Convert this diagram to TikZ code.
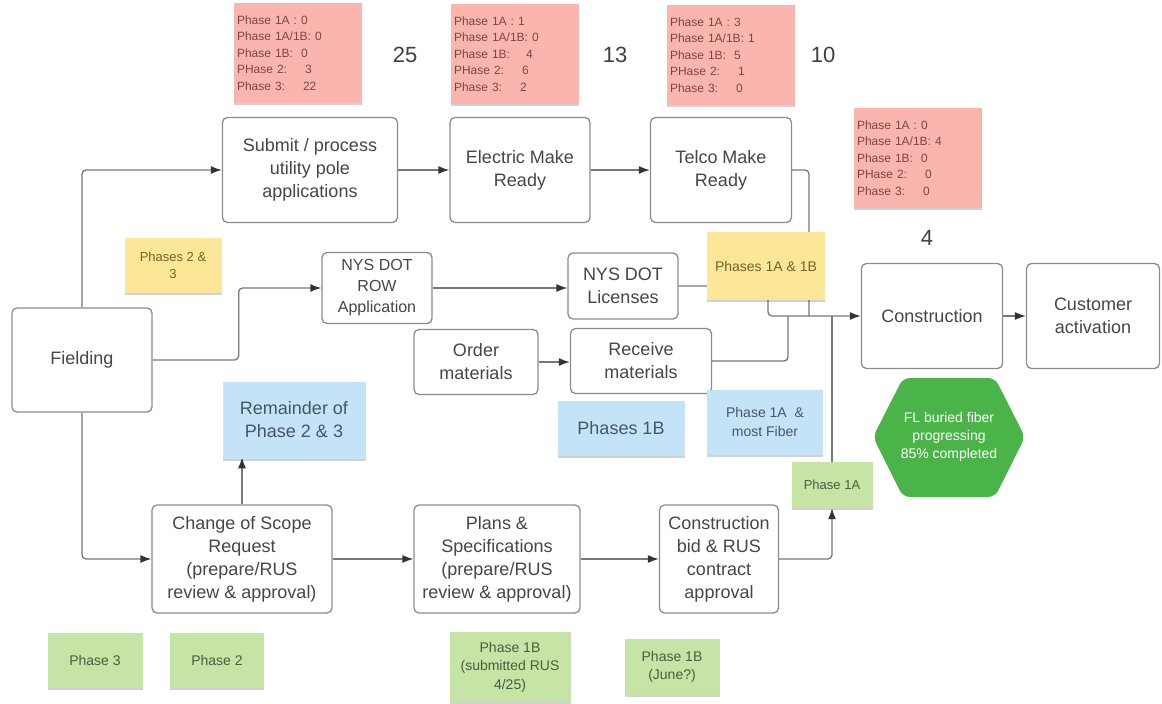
\documentclass[tikz,border=0pt]{standalone}
\usepackage{fontspec}
\setmainfont{Liberation Sans}
\usetikzlibrary{arrows.meta,shadows}

\definecolor{boxline}{RGB}{140,140,140}
\definecolor{boxtext}{RGB}{70,70,70}
\definecolor{linegray}{RGB}{120,120,120}
\definecolor{pinkfill}{RGB}{250,182,174}
\definecolor{pinktext}{RGB}{125,70,70}
\definecolor{yellowfill}{RGB}{252,230,152}
\definecolor{yellowtext}{RGB}{115,100,40}
\definecolor{bluefill}{RGB}{197,227,246}
\definecolor{bluetext}{RGB}{70,85,105}
\definecolor{greenfill}{RGB}{198,228,166}
\definecolor{greentext}{RGB}{70,95,60}
\definecolor{hexfill}{RGB}{74,180,72}

\begin{document}
\begin{tikzpicture}[x=1pt, y=-1pt,
    every node/.style={font=\fontsize{18}{23}\selectfont, text=boxtext},
    procbox/.style={draw=boxline, line width=1.3pt, rounded corners=5pt, fill=white, align=center, inner sep=2pt},
    note/.style={rectangle, align=center, inner sep=3pt,
        drop shadow={shadow xshift=0pt, shadow yshift=-2pt, opacity=0.18, fill=black}},
    pinknote/.style={note, fill=pinkfill, text=pinktext, align=left, text width=122pt,
        font=\fontsize{12}{16.5}\selectfont, minimum height=100pt},
    yellownote/.style={note, fill=yellowfill, text=yellowtext},
    bluenote/.style={note, fill=bluefill, text=bluetext},
    greennote/.style={note, fill=greenfill, text=greentext, font=\fontsize{14}{18.5}\selectfont},
    bignum/.style={font=\fontsize{22}{26}\selectfont, text=black!75},
    conn/.style={draw=linegray, line width=1.3pt, rounded corners=4pt},
    arr/.style={conn, -{Latex[length=11pt, width=8pt, color=black!80]}}]

    % page
    \fill[white] (0,0) rectangle (1162,704);
    \useasboundingbox (0,0) rectangle (1162,704);

    % process boxes
    \node[procbox, minimum width=140pt, minimum height=104pt] (field) at (82,360) {Fielding};
    \node[procbox, minimum width=175pt, minimum height=105pt] (submit) at (310,170) {Submit / process\\utility pole\\applications};
    \node[procbox, minimum width=140pt, minimum height=105pt] (elec) at (520,170) {Electric Make\\Ready};
    \node[procbox, minimum width=141pt, minimum height=105pt] (telco) at (721,170) {Telco Make\\Ready};
    \node[procbox, minimum width=110pt, minimum height=71pt, font=\fontsize{16}{21}\selectfont] (row) at (377,288) {NYS DOT\\ROW\\Application};
    \node[procbox, minimum width=110pt, minimum height=66pt] (lic) at (623,286) {NYS DOT\\Licenses};
    \node[procbox, minimum width=141pt, minimum height=105pt] (constr) at (932,316) {Construction};
    \node[procbox, minimum width=133pt, minimum height=105pt] (cust) at (1093,316) {Customer\\activation};
    \node[procbox, minimum width=124pt, minimum height=65pt] (order) at (476,362) {Order\\materials};
    \node[procbox, minimum width=141pt, minimum height=65pt] (recv) at (641,361) {Receive\\materials};
    \node[procbox, minimum width=180pt, minimum height=108pt] (scope) at (242,559) {Change of Scope\\Request\\(prepare/RUS\\review \& approval)};
    \node[procbox, minimum width=166pt, minimum height=108pt] (plans) at (497,559) {Plans \&\\Specifications\\(prepare/RUS\\review \& approval)};
    \node[procbox, minimum width=119pt, minimum height=108pt] (bid) at (719,559) {Construction\\bid \& RUS\\contract\\approval};

    % junction points on the way into Construction
    \coordinate (mrgL) at (768,316);
    \coordinate (mrgR) at (788,316);
    \coordinate (mrgT) at (809,316);
    \coordinate (mrgA) at (832,316);

    % connectors
    \draw[arr] (field.north) |- (submit.west);
    \draw[arr] (submit.east) -- (elec.west);
    \draw[arr] (elec.east) -- (telco.west);
    \draw[arr] (field.east) -- ++(86,0) |- (row.west);
    \draw[arr] (row.east) -- (row.east -| lic.west);
    \draw[arr] (order.east) -- (order.east -| recv.west);
    \draw[arr] (lic.east) -| (mrgL) -- (constr.west);
    \draw[conn] (telco.east) -| (mrgT);
    \draw[conn] (recv.east) -| (mrgR);
    \draw[arr] (constr.east) -- (cust.west);
    \draw[arr] (field.south) |- (scope.west);
    \draw[arr] (scope.east) -- (plans.west);
    \draw[arr] (plans.east) -- (bid.west);
    \draw[arr] (scope.north) -- ++(0,-47);

    % sticky notes: phases
    \node[yellownote, minimum width=97pt, minimum height=55pt, font=\fontsize{13}{17}\selectfont] (y23) at (173,265) {Phases 2 \&\\3};
    \node[yellownote, minimum width=118pt, minimum height=68pt, font=\fontsize{14}{18}\selectfont] (y1a) at (766,266) {Phases 1A \& 1B};
    \node[bluenote, minimum width=143pt, minimum height=77pt] (rem) at (294,420) {Remainder of\\Phase 2 \& 3};
    \node[bluenote, minimum width=127pt, minimum height=55pt] (b1b) at (621,428) {Phases 1B};
    \node[bluenote, minimum width=116pt, minimum height=65pt, font=\fontsize{14}{18.5}\selectfont] (b1a) at (765,422) {Phase 1A ~\&\\most Fiber};
    \node[greennote, minimum width=81pt, minimum height=46pt, font=\fontsize{13}{17}\selectfont] (g1a) at (832,485) {Phase 1A};
    \node[greennote, minimum width=95pt, minimum height=55pt] (g3) at (95,660) {Phase 3};
    \node[greennote, minimum width=94pt, minimum height=55pt] (g2) at (217,660) {Phase 2};
    \node[greennote, minimum width=121pt, minimum height=70pt] (g1bs) at (510,667) {Phase 1B\\(submitted RUS\\4/25)};
    \node[greennote, minimum width=95pt, minimum height=56pt] (g1bj) at (672,667) {Phase 1B\\(June?)};

    \draw[conn] (g1a.north) -- (mrgA);
    \draw[arr] (bid.east) -| (g1a.south);

    % sticky notes: counts
    \node[pinknote] (p1) at (298,53) {Phase 1A : 0\\Phase 1A/1B: 0\\Phase 1B:~ 0\\PHase 2:~~~ 3\\Phase 3:~~~ 22};
    \node[pinknote] (p2) at (515,54) {Phase 1A : 1\\Phase 1A/1B: 0\\Phase 1B:~~~ 4\\PHase 2:~~~ 6\\Phase 3:~~~ 2};
    \node[pinknote] (p3) at (731,55) {Phase 1A : 3\\Phase 1A/1B: 1\\Phase 1B:~ 5\\PHase 2:~~~ 1\\Phase 3:~~~ 0};
    \node[pinknote] (p4) at (918,158) {Phase 1A : 0\\Phase 1A/1B: 4\\Phase 1B:~ 0\\PHase 2:~~~ 0\\Phase 3:~~~ 0};
    \node[bignum] (n25) at (405,55) {25};
    \node[bignum] (n13) at (615,55) {13};
    \node[bignum] (n10) at (823,55) {10};
    \node[bignum] (n4) at (927,238) {4};

    % progress hexagon
    \fill[hexfill, rounded corners=7pt] (873,437) -- (903,378) -- (995,378) -- (1025,437) -- (995,497) -- (903,497) -- cycle;
    \node[text=white, align=center, font=\fontsize{14}{18}\selectfont] (hexa) at (949,437) {FL buried fiber\\progressing\\85\% completed};
\end{tikzpicture}
\end{document}
